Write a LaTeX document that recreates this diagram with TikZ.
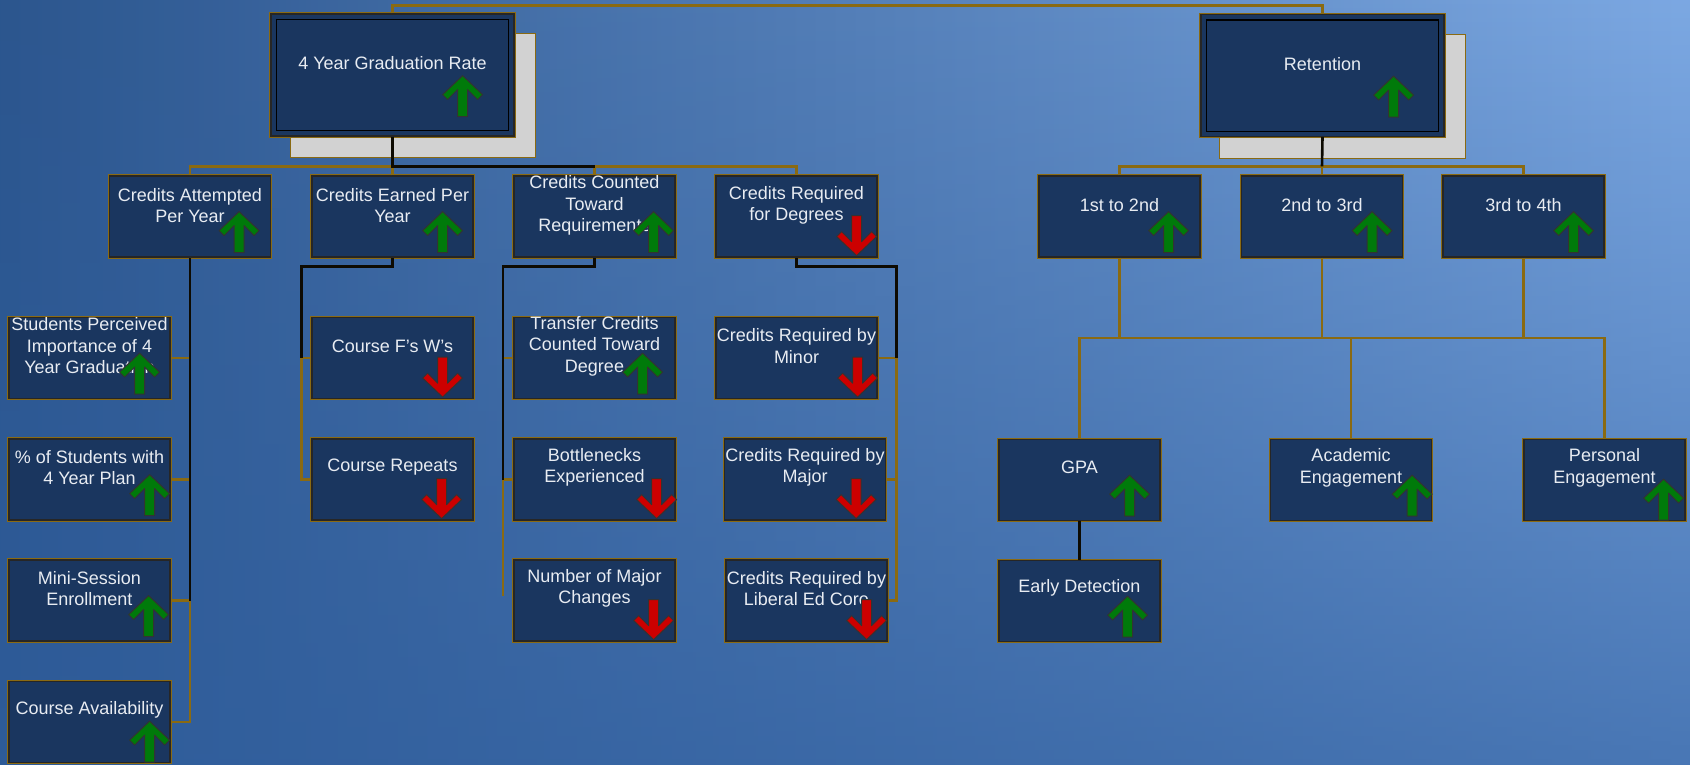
\documentclass[tikz,border=0pt]{standalone}
\usepackage{fontspec}
\setmainfont{Liberation Sans}
\usetikzlibrary{fadings}

\definecolor{boxfill}{HTML}{1A365F}
\definecolor{goldline}{HTML}{8A6A12}
\definecolor{upgreen}{HTML}{007A0A}
\definecolor{downred}{HTML}{CC0000}
\definecolor{labelgrey}{HTML}{E8ECF2}
\definecolor{shadegrey}{HTML}{D2D2D2}
\definecolor{bgl}{HTML}{2A548C}
\definecolor{bgm}{HTML}{4E88D0}
\definecolor{bgr}{HTML}{80ACE6}
\definecolor{bgbot}{HTML}{2F5E9E}

\tikzfading[name=fadeup, top color=transparent!100, bottom color=transparent!30]

\tikzset{
  kpibox/.style={rectangle, fill=boxfill, draw=black!85, line width=1.2pt,
    preaction={draw=goldline, line width=3.4pt},
    minimum width=161pt, minimum height=81pt, inner sep=0pt},
  topbox/.style={kpibox, minimum width=243pt, minimum height=122pt},
  kpitext/.style={text=labelgrey, align=center, inner sep=0pt,
    font=\fontsize{18pt}{21.5pt}\selectfont},
  shadowbox/.style={fill=shadegrey, draw=goldline, line width=1pt},
  gline/.style={goldline, line width=2.6pt},
  bline/.style={black!90!goldline, line width=2.6pt},
  uparr/.pic={
    \draw[fill=upgreen, draw=black!80, line width=1pt, line join=round]
      (-5,0) -- (-5,-27) -- (-15,-17) -- (-20,-22) -- (0,-41)
      -- (20,-22) -- (15,-17) -- (5,-27) -- (5,0) -- cycle;},
  dnarr/.pic={
    \draw[fill=downred, draw=black!80, line width=1pt, line join=round]
      (-5,-40) -- (-5,-14) -- (-15,-24) -- (-20,-19) -- (0,0)
      -- (20,-19) -- (15,-24) -- (5,-14) -- (5,-40) -- cycle;}
}

\begin{document}
\begin{tikzpicture}[x=1pt, y=-1pt]
\useasboundingbox (0,0) rectangle (1690,764);
% background
\shade[left color=bgl, middle color=bgm, right color=bgr] (-30,-30) rectangle (1720,794);
\fill[bgbot, path fading=fadeup, fit fading=true] (-30,-30) rectangle (1720,794);

% shadows of the two goals
\draw[shadowbox] (290,33) rectangle (535,157);
\draw[shadowbox] (1219,34) rectangle (1465,158);

% goals
\node[topbox] (grad) at (392.5,75) {};
\node[topbox] (ret) at (1322.5,75.5) {};
\draw[black, line width=1.2pt] ([shift={(6,6)}]grad.north west) rectangle ([shift={(-6,-6)}]grad.south east);
\draw[black, line width=1.2pt] ([shift={(6,6)}]ret.north west) rectangle ([shift={(-6,-6)}]ret.south east);

% second level
\node[kpibox] (att) at (190,216.5) {};
\node[kpibox] (ern) at (392.5,216.5) {};
\node[kpibox] (cnt) at (594.5,216.5) {};
\node[kpibox] (req) at (796.5,216.5) {};
\node[kpibox] (y1) at (1119.5,216.5) {};
\node[kpibox] (y2) at (1322,216.5) {};
\node[kpibox] (y3) at (1523.5,216.5) {};

% third level
\node[kpibox] (sp) at (89.5,358) {};
\node[kpibox] (pct) at (89.5,479.5) {};
\node[kpibox] (mini) at (89.5,600.5) {};
\node[kpibox] (avail) at (89.5,722) {};
\node[kpibox] (fw) at (392.5,358) {};
\node[kpibox] (rep) at (392.5,479.5) {};
\node[kpibox] (trans) at (594.5,358) {};
\node[kpibox] (bott) at (594.5,479.5) {};
\node[kpibox] (nmaj) at (594.5,600.5) {};
\node[kpibox] (rmin) at (796.5,358) {};
\node[kpibox] (rmaj) at (805,479.5) {};
\node[kpibox] (rlib) at (806.5,600.5) {};
\node[kpibox] (gpa) at (1079.5,480) {};
\node[kpibox] (aca) at (1351,480) {};
\node[kpibox] (pers) at (1604.5,480) {};
\node[kpibox] (early) at (1079.5,601) {};

\coordinate (cntend) at (503,596);
\coordinate (reqbus) at ([xshift=9pt]rlib.east);
\coordinate (rbus) at (0,338);

% connectors, graduation side
\draw[gline] (grad.north) -- ++(0,-8) -| (ret.north);
\draw[gline] (att.north) -- ++(0,-9) -| (req.north);
\draw[gline] (ern.north) -- ++(0,-9);
\draw[gline] (cnt.north) -- ++(0,-9);
\draw[bline] (grad.south) |- ([yshift=9pt]cnt.north);

\draw[gline] (att.south) |- (avail.east);
\draw[gline] (att.south) |- (sp.east);
\draw[gline] (att.south) |- (pct.east);
\draw[gline] (att.south) |- (mini.east);
\draw[bline] (att.south) -- (att.south |- mini.east);

\draw[gline] (ern.south) -- ++(0,9) -| ([xshift=-10pt]rep.west) -- (rep.west);
\draw[gline] ([xshift=-10pt]fw.west) -- (fw.west);
\draw[bline] (ern.south) -- ++(0,9) -| ([xshift=-10pt]fw.west);

\draw[gline] (cnt.south) -- ++(0,9) -| (cntend);
\draw[gline] (trans.west) -- (trans.west -| cntend);
\draw[gline] (bott.west) -- (bott.west -| cntend);
\draw[bline] (cnt.south) -- ++(0,9) -| (bott.west -| cntend);

\draw[gline] (req.south) -- ++(0,9) -| (reqbus) -- (rlib.east);
\draw[gline] (rmin.east) -- (rmin.east -| reqbus);
\draw[gline] (rmaj.east) -- (rmaj.east -| reqbus);
\draw[bline] (req.south) -- ++(0,9) -| (rmin.east -| reqbus);

% connectors, retention side
\draw[gline] (y1.north) -- ++(0,-9) -| (y3.north);
\draw[gline] (y2.north) -- ++(0,-9);
\draw[bline] (ret.south) -- ([yshift=9pt]y2.north);
\draw[gline] (y1.south) -- (y1.south |- rbus);
\draw[gline] (y2.south) -- (y2.south |- rbus);
\draw[gline] (y3.south) -- (y3.south |- rbus);
\draw[gline] (gpa.north) -- (gpa.north |- rbus) -- (pers.north |- rbus) -- (pers.north);
\draw[gline] (aca.north) -- (aca.north |- rbus);
\draw[bline] (gpa.south) -- (early.north);

% labels
\node[kpitext] (grad-t) at ([yshift=-50pt]grad.north) {4 Year Graduation Rate};
\node[kpitext] (ret-t) at ([yshift=-50pt]ret.north) {Retention};
\node[kpitext] (att-t) at ([yshift=-30pt]att.north) {Credits Attempted\\Per Year};
\node[kpitext] (ern-t) at ([yshift=-30pt]ern.north) {Credits Earned Per\\Year};
\node[kpitext] (cnt-t) at ([yshift=-30pt]cnt.north) {Credits Counted\\Toward\\Requirements};
\node[kpitext] (req-t) at ([yshift=-30pt]req.north) {Credits Required\\for Degrees};
\node[kpitext] (y1-t) at ([yshift=-30pt]y1.north) {1st to 2nd};
\node[kpitext] (y2-t) at ([yshift=-30pt]y2.north) {2nd to 3rd};
\node[kpitext] (y3-t) at ([yshift=-30pt]y3.north) {3rd to 4th};
\node[kpitext] (sp-t) at ([yshift=-29pt]sp.north) {Students Perceived\\Importance of 4\\Year Graduation};
\node[kpitext] (pct-t) at ([yshift=-29pt]pct.north) {\% of Students with\\4 Year Plan};
\node[kpitext] (mini-t) at ([yshift=-29pt]mini.north) {Mini-Session\\Enrollment};
\node[kpitext] (avail-t) at ([yshift=-29pt]avail.north) {Course Availability};
\node[kpitext] (fw-t) at ([yshift=-29pt]fw.north) {Course F's W's};
\node[kpitext] (rep-t) at ([yshift=-29pt]rep.north) {Course Repeats};
\node[kpitext] (trans-t) at ([yshift=-29pt]trans.north) {Transfer Credits\\Counted Toward\\Degree};
\node[kpitext] (bott-t) at ([yshift=-29pt]bott.north) {Bottlenecks\\Experienced};
\node[kpitext] (nmaj-t) at ([yshift=-29pt]nmaj.north) {Number of Major\\Changes};
\node[kpitext] (rmin-t) at ([yshift=-29pt]rmin.north) {Credits Required by\\Minor};
\node[kpitext] (rmaj-t) at ([yshift=-29pt]rmaj.north) {Credits Required by\\Major};
\node[kpitext] (rlib-t) at ([yshift=-29pt]rlib.north) {Credits Required by\\Liberal Ed Core};
\node[kpitext] (gpa-t) at ([yshift=-28pt]gpa.north) {GPA};
\node[kpitext] (aca-t) at ([yshift=-29pt]aca.north) {Academic\\Engagement};
\node[kpitext] (pers-t) at ([yshift=-29pt]pers.north) {Personal\\Engagement};
\node[kpitext] (early-t) at ([yshift=-28pt]early.north) {Early Detection};

% trend arrows
\pic at ([shift={(-52,-20)}]grad.south east) {uparr};
\pic at ([shift={(-51,-20)}]ret.south east) {uparr};
\pic at ([shift={(-32,-5)}]att.south east) {uparr};
\pic at ([shift={(-31,-5)}]ern.south east) {uparr};
\pic at ([shift={(-22,-5)}]cnt.south east) {uparr};
\pic at ([shift={(-21,-2)}]req.south east) {dnarr};
\pic at ([shift={(-32,-5)}]y1.south east) {uparr};
\pic at ([shift={(-31,-5)}]y2.south east) {uparr};
\pic at ([shift={(-31,-5)}]y3.south east) {uparr};
\pic at ([shift={(-31,-5)}]sp.south east) {uparr};
\pic at ([shift={(-21,-5)}]pct.south east) {uparr};
\pic at ([shift={(-22,-5)}]mini.south east) {uparr};
\pic at ([shift={(-21,-1)}]avail.south east) {uparr};
\pic at ([shift={(-31,-2)}]fw.south east) {dnarr};
\pic at ([shift={(-32,-2)}]rep.south east) {dnarr};
\pic at ([shift={(-33,-5)}]trans.south east) {uparr};
\pic at ([shift={(-19,-2)}]bott.south east) {dnarr};
\pic at ([shift={(-22,-2)}]nmaj.south east) {dnarr};
\pic at ([shift={(-20,-2)}]rmin.south east) {dnarr};
\pic at ([shift={(-30,-2)}]rmaj.south east) {dnarr};
\pic at ([shift={(-21,-2)}]rlib.south east) {dnarr};
\pic at ([shift={(-31,-5)}]gpa.south east) {uparr};
\pic at ([shift={(-20,-5)}]aca.south east) {uparr};
\pic at ([shift={(-22,-1)}]pers.south east) {uparr};
\pic at ([shift={(-33,-5)}]early.south east) {uparr};
\end{tikzpicture}
\end{document}
